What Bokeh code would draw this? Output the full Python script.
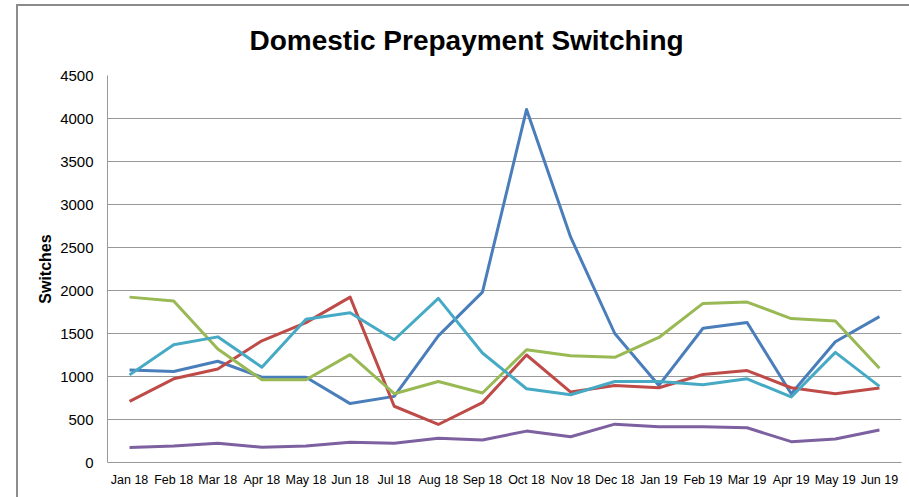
from bokeh.plotting import figure
from bokeh.models import FixedTicker, Range1d, FactorRange, InlineStyleSheet
from bokeh.embed import file_html
from bokeh.resources import INLINE

months = ["Jan 18", "Feb 18", "Mar 18", "Apr 18", "May 18", "Jun 18", "Jul 18", "Aug 18", "Sep 18",
          "Oct 18", "Nov 18", "Dec 18", "Jan 19", "Feb 19", "Mar 19", "Apr 19", "May 19", "Jun 19"]

series_1 = [1077, 1058, 1177, 992, 992, 685, 769, 1473, 1981, 4105, 2620, 1500, 896, 1561, 1627, 800, 1404, 1696]
series_2 = [711, 973, 1088, 1415, 1627, 1923, 654, 442, 696, 1250, 819, 896, 869, 1023, 1069, 869, 800, 865]
series_3 = [1923, 1877, 1319, 962, 962, 1254, 800, 942, 808, 1311, 1242, 1223, 1454, 1850, 1865, 1673, 1646, 1096]
series_4 = [173, 192, 223, 177, 192, 235, 223, 281, 262, 365, 300, 446, 415, 415, 404, 242, 273, 377]
series_5 = [1019, 1369, 1461, 1108, 1665, 1742, 1427, 1908, 1273, 858, 788, 942, 942, 904, 973, 762, 1281, 885]

y_ticks = [0, 500, 1000, 1500, 2000, 2500, 3000, 3500, 4000, 4500]

series = [series_1, series_2, series_3, series_4, series_5]
colors = ["#4A7EBB", "#BE4B48", "#98B954", "#7D60A0", "#46AAC5"]

p = figure(width=909, height=497, x_range=FactorRange(*months, range_padding=0),
           y_range=Range1d(0, 4500), output_backend="svg", toolbar_location=None,
           min_border_left=107, min_border_right=8, min_border_top=75, min_border_bottom=35,
           title="Domestic Prepayment Switching")

# outer chart-area border (only its top and left edges are visible in the crop)
p.stylesheets = [InlineStyleSheet(css=(
    ":host::after { content: ''; position: absolute; left: 16px; top: 4px; "
    "width: 1000px; height: 1000px; border-top: 2px solid #8c8c8c; "
    "border-left: 2px solid #8c8c8c; pointer-events: none; z-index: 5; }"
))]

for vals, c in zip(series, colors):
    p.line(months, vals, line_color=c, line_width=3, line_join="round")

p.title.text_font = "Liberation Sans"
p.title.text_font_size = "28px"
p.title.text_font_style = "bold"
p.title.text_color = "#000000"
p.title.align = "left"
p.title.offset = 142
p.title.standoff = 40

p.outline_line_color = None
p.background_fill_color = "white"
p.border_fill_color = "white"

p.yaxis.ticker = FixedTicker(ticks=y_ticks)
p.yaxis.axis_label = "Switches"
p.yaxis.axis_label_text_font = "Liberation Sans"
p.yaxis.axis_label_text_font_size = "16px"
p.yaxis.axis_label_text_font_style = "bold"
p.yaxis.axis_label_text_color = "#000000"
p.yaxis.axis_label_standoff = 3
p.yaxis.major_label_text_font = "Liberation Sans"
p.yaxis.major_label_text_font_size = "15px"
p.yaxis.major_label_text_color = "#000000"
p.yaxis.major_label_standoff = 14
p.yaxis.major_tick_out = 0
p.yaxis.major_tick_in = 0
p.yaxis.minor_tick_out = 0
p.yaxis.minor_tick_in = 0
p.yaxis.axis_line_color = "#999999"

p.xaxis.major_label_text_font = "Liberation Sans"
p.xaxis.major_label_text_font_size = "12.5px"
p.xaxis.major_label_text_color = "#000000"
p.xaxis.major_label_standoff = 10
p.xaxis.major_tick_out = 0
p.xaxis.major_tick_in = 0
p.xaxis.axis_line_color = "#999999"

p.xgrid.grid_line_color = None
p.ygrid.grid_line_color = "#999999"
p.ygrid.grid_line_width = 1

open("out.html", "w").write(file_html(p, INLINE))
